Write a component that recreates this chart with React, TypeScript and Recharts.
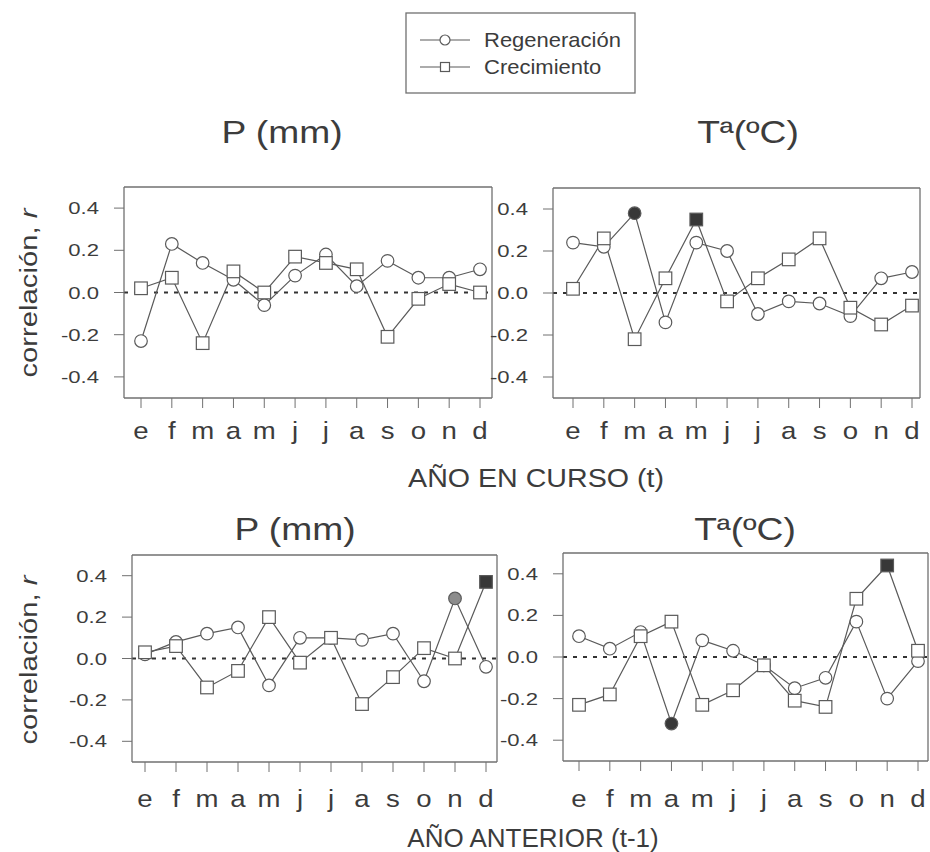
import React from "react";
import { LineChart, Line, XAxis, YAxis, ReferenceLine } from "recharts";

const months = ["e", "f", "m", "a", "m", "j", "j", "a", "s", "o", "n", "d"];
const yTicks = [-0.4, -0.2, 0, 0.2, 0.4];

// año en curso (t)
const regPt = [-0.23, 0.23, 0.14, 0.06, -0.06, 0.08, 0.18, 0.03, 0.15, 0.07, 0.07, 0.11];
const crePt = [0.02, 0.07, -0.24, 0.1, 0.0, 0.17, 0.14, 0.11, -0.21, -0.03, 0.04, 0.0];
const regTt = [0.24, 0.22, 0.38, -0.14, 0.24, 0.2, -0.1, -0.04, -0.05, -0.11, 0.07, 0.1];
const creTt = [0.02, 0.26, -0.22, 0.07, 0.35, -0.04, 0.07, 0.16, 0.26, -0.07, -0.15, -0.06];

// año anterior (t-1)
const regP1 = [0.02, 0.08, 0.12, 0.15, -0.13, 0.1, 0.1, 0.09, 0.12, -0.11, 0.29, -0.04];
const creP1 = [0.03, 0.06, -0.14, -0.06, 0.2, -0.02, 0.1, -0.22, -0.09, 0.05, 0.0, 0.37];
const regT1 = [0.1, 0.04, 0.12, -0.32, 0.08, 0.03, -0.04, -0.15, -0.1, 0.17, -0.2, -0.02];
const creT1 = [-0.23, -0.18, 0.1, 0.17, -0.23, -0.16, -0.04, -0.21, -0.24, 0.28, 0.44, 0.03];

// significant correlations: 0 none, 1 marginal, 2 significant
const sigRegTt = [0, 0, 2, 0, 0, 0, 0, 0, 0, 0, 0, 0];
const sigCreTt = [0, 0, 0, 0, 2, 0, 0, 0, 0, 0, 0, 0];
const sigRegP1 = [0, 0, 0, 0, 0, 0, 0, 0, 0, 0, 1, 0];
const sigCreP1 = [0, 0, 0, 0, 0, 0, 0, 0, 0, 0, 0, 2];
const sigRegT1 = [0, 0, 0, 2, 0, 0, 0, 0, 0, 0, 0, 0];
const sigCreT1 = [0, 0, 0, 0, 0, 0, 0, 0, 0, 0, 2, 0];
const none = months.map(() => 0);

const FONT = "'Liberation Sans', Arial, sans-serif";
const INK = "#3c3c3c";
const LINE = "#5a5a5a";
const FRAME = "#707070";
const sigFill = ["#fff", "#8c8c8c", "#383838"];

const AXL = 90;
const TOP = 10;
const RIGHT = 12;
const AXB = 55;

type STextProps = {
  x: number;
  y: number;
  size: number;
  sx?: number;
  anchor?: "start" | "middle" | "end";
  rotate?: number;
  children: React.ReactNode;
};

const SText = ({ x, y, size, sx = 1, anchor = "middle", rotate = 0, children }: STextProps) => (
  <text
    transform={`translate(${x},${y}) rotate(${rotate}) scale(${sx},1)`}
    textAnchor={anchor}
    fontFamily={FONT}
    fontSize={size}
    fill={INK}
  >
    {children}
  </text>
);

type Box = { l: number; t: number; w: number; h: number };

type PanelProps = {
  box: Box;
  pad: [number, number];
  labelGap: number;
  reg: number[];
  cre: number[];
  regSig: number[];
  creSig: number[];
};

const Panel = ({ box, pad, labelGap, reg, cre, regSig, creSig }: PanelProps) => {
  const rows = months.map((m, i) => ({
    i: i + 1,
    reg: reg[i],
    cre: cre[i],
    rs: regSig[i],
    cs: creSig[i],
  }));
  const xProps = {
    dataKey: "i",
    type: "number" as const,
    domain: [1, 12],
    ticks: rows.map((r) => r.i),
    padding: { left: pad[0], right: pad[1] },
  };
  const yProps = { type: "number" as const, domain: [-0.5, 0.5], ticks: yTicks };

  const xTick = (p: any) => (
    <SText x={p.x} y={TOP + box.h + labelGap} size={24} sx={1.15}>
      {months[p.payload.value - 1]}
    </SText>
  );
  const yTick = (p: any) => (
    <SText x={AXL - 25} y={p.y + 6} size={17} sx={1.3} anchor="end">
      {Number(p.payload.value).toFixed(1)}
    </SText>
  );

  const circle = (p: any) => (
    <circle
      key={`c${p.index}`}
      cx={p.cx}
      cy={p.cy}
      r={6.3}
      fill={sigFill[p.payload.rs]}
      stroke={LINE}
      strokeWidth={1.2}
    />
  );
  const square = (p: any) => (
    <rect
      key={`s${p.index}`}
      x={p.cx - 6.3}
      y={p.cy - 6.3}
      width={12.6}
      height={12.6}
      fill={sigFill[p.payload.cs]}
      stroke={LINE}
      strokeWidth={1.2}
    />
  );

  // top/right axes only draw the frame; they need a size > 0 to render
  return (
    <div
      style={{
        position: "absolute",
        left: box.l - AXL,
        top: box.t - TOP,
      }}
    >
      <LineChart
        width={AXL + box.w + RIGHT}
        height={TOP + box.h + AXB}
        data={rows}
        margin={{ top: TOP - 1, right: RIGHT - 1, left: 0, bottom: 0 }}
      >
        <XAxis
          {...xProps}
          xAxisId="b"
          height={AXB}
          interval={0}
          tickSize={10}
          tickLine={{ stroke: FRAME }}
          axisLine={{ stroke: FRAME, strokeWidth: 1.3 }}
          tick={xTick}
        />
        <XAxis
          {...xProps}
          xAxisId="t"
          orientation="top"
          height={1}
          tick={false}
          tickLine={false}
          axisLine={{ stroke: FRAME, strokeWidth: 1.3 }}
        />
        <YAxis
          {...yProps}
          yAxisId="l"
          width={AXL}
          interval={0}
          tickSize={10}
          tickLine={{ stroke: FRAME }}
          axisLine={{ stroke: FRAME, strokeWidth: 1.3 }}
          tick={yTick}
        />
        <YAxis
          {...yProps}
          yAxisId="r"
          orientation="right"
          width={1}
          tick={false}
          tickLine={false}
          axisLine={{ stroke: FRAME, strokeWidth: 1.3 }}
        />
        <ReferenceLine
          xAxisId="b"
          yAxisId="l"
          y={0}
          stroke="#333"
          strokeWidth={2}
          strokeDasharray="4 6"
        />
        <Line
          xAxisId="b"
          yAxisId="l"
          dataKey="reg"
          type="linear"
          stroke={LINE}
          strokeWidth={1.2}
          dot={circle}
          activeDot={false}
          isAnimationActive={false}
        />
        <Line
          xAxisId="b"
          yAxisId="l"
          dataKey="cre"
          type="linear"
          stroke={LINE}
          strokeWidth={1.2}
          dot={square}
          activeDot={false}
          isAnimationActive={false}
        />
      </LineChart>
    </div>
  );
};

const YLabel = ({ cy }: { cy: number }) => (
  <SText x={37} y={cy} size={24} sx={1.22} rotate={-90}>
    correlación, <tspan fontStyle="italic">r</tspan>
  </SText>
);

const App = () => {
  return (
    <div
      style={{
        position: "absolute",
        left: 0,
        top: 0,
        width: 930,
        height: 852,
        overflow: "hidden",
        background: "#fff",
      }}
    >
      <Panel
        box={{ l: 124, t: 187, w: 368, h: 211 }}
        pad={[17, 12]}
        labelGap={41}
        reg={regPt}
        cre={crePt}
        regSig={none}
        creSig={none}
      />
      <Panel
        box={{ l: 553, t: 188, w: 367, h: 210 }}
        pad={[20, 8]}
        labelGap={41}
        reg={regTt}
        cre={creTt}
        regSig={sigRegTt}
        creSig={sigCreTt}
      />
      <Panel
        box={{ l: 132, t: 555, w: 365, h: 207 }}
        pad={[13, 11]}
        labelGap={45}
        reg={regP1}
        cre={creP1}
        regSig={sigRegP1}
        creSig={sigCreP1}
      />
      <Panel
        box={{ l: 563, t: 553, w: 365, h: 208 }}
        pad={[16, 10]}
        labelGap={46}
        reg={regT1}
        cre={creT1}
        regSig={sigRegT1}
        creSig={sigCreT1}
      />
      <svg
        width={930}
        height={852}
        style={{ position: "absolute", left: 0, top: 0, pointerEvents: "none" }}
      >
        {/* legend */}
        <rect x={406} y={13} width={229} height={80} fill="none" stroke={FRAME} strokeWidth={1.3} />
        <line x1={420} x2={470} y1={40} y2={40} stroke={LINE} strokeWidth={1.2} />
        <circle cx={445} cy={40} r={5} fill="#fff" stroke={LINE} strokeWidth={1.2} />
        <SText x={484} y={47} size={20} sx={1.1} anchor="start">Regeneración</SText>
        <line x1={420} x2={470} y1={67} y2={67} stroke={LINE} strokeWidth={1.2} />
        <rect x={440.5} y={62.5} width={9} height={9} fill="#fff" stroke={LINE} strokeWidth={1.2} />
        <SText x={484} y={74} size={20} sx={1.1} anchor="start">Crecimiento</SText>

        {/* panel titles */}
        <SText x={282} y={143} size={31} sx={1.2}>P (mm)</SText>
        <SText x={748} y={143} size={31} sx={1.2}>Tª(ºC)</SText>
        <SText x={295} y={540} size={31} sx={1.2}>P (mm)</SText>
        <SText x={745} y={540} size={31} sx={1.2}>Tª(ºC)</SText>

        <YLabel cy={293} />
        <YLabel cy={660} />

        <SText x={536} y={487} size={26} sx={1.1}>AÑO EN CURSO (t)</SText>
        <SText x={533} y={847} size={26}>AÑO ANTERIOR (t-1)</SText>
      </svg>
    </div>
  );
};

export default App;
